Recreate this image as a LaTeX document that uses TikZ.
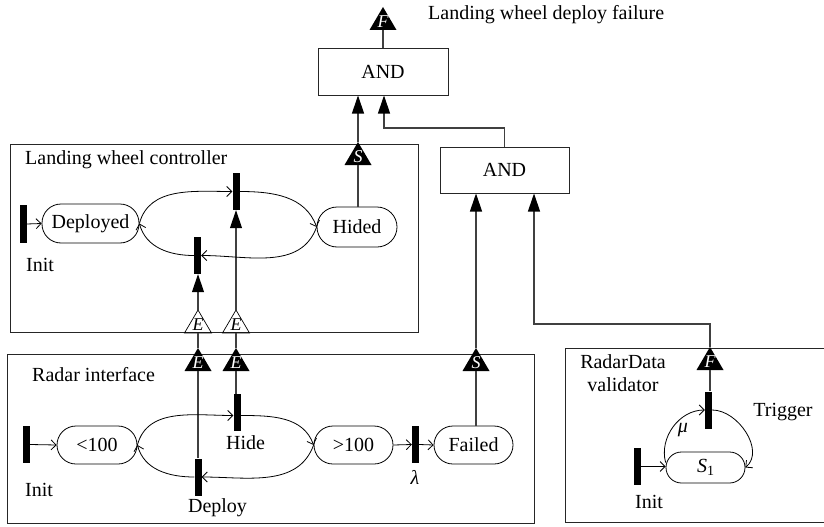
\documentclass[tikz,border=0pt]{standalone}
\usepackage{fontspec}
\setmainfont{Liberation Serif}
\usetikzlibrary{arrows.meta}
% event/fault port: apex coordinate #1, base coordinate #1-b, letter node #1-t
\newcommand{\evport}[5]{%
  \coordinate (#1) at (#2,#3);
  \coordinate (#1-b) at (#2,#3+23);
  \path[#4] (#1) -- ++(13.5,23) -- ++(-27,0) -- cycle;
  \node[plet, #4 letter] (#1-t) at (#2,#3+14.5) {#5};
}
\begin{document}
\begin{tikzpicture}[x=1pt,y=-1pt,
  every node/.style={font=\fontsize{20}{23}\selectfont},
  lbl/.style={inner sep=0pt},
  box/.style={draw=black!85, line width=1pt, inner sep=0pt},
  gate/.style={draw=black!85, line width=1pt, minimum width=130pt, minimum height=46pt, inner sep=0pt},
  state/.style={draw, line width=0.8pt, rounded corners=19pt, minimum height=39pt, inner sep=0pt},
  bar/.style={fill=black, minimum width=7pt, minimum height=37pt, inner sep=0pt},
  portfill/.style={fill=black},
  portfill letter/.style={text=white},
  porthollow/.style={draw=black, line width=0.7pt, line join=miter},
  porthollow letter/.style={text=black},
  plet/.style={font=\itshape\fontsize{18}{18}\selectfont, inner sep=0pt},
  trans/.style={line width=0.8pt, -{Straight Barb[length=5pt,width=10pt]}},
  link/.style={line width=1.1pt, draw=black!75},
  feed/.style={link, -{Triangle[length=18pt,width=12pt,color=black]}},
]
\useasboundingbox (0,0) rectangle (824,527);

% containers
\node[box, minimum width=408pt, minimum height=188pt] (ctl) at (214,238) {};
\node[box, minimum width=527pt, minimum height=169pt] (rad) at (270.5,438.5) {};
\node[box, minimum width=265pt, minimum height=174pt] (val) at (697.5,435) {};

% gates
\node[gate] (andTop) at (383,72) {AND};
\node[gate, minimum width=129pt] (and2) at (504.5,170) {AND};

% titles
\node[lbl, anchor=west] (tTop) at (428,15) {Landing wheel deploy failure};
\node[lbl, anchor=west] (tCtl) at (25,160) {Landing wheel controller};
\node[lbl, anchor=west] (tRad) at (32,375) {Radar interface};
\node[lbl, align=center] (tVal) at (623,373.5) {RadarData\\validator};

% landing wheel controller
\node[state, minimum width=97pt] (dep) at (90.5,223.5) {Deployed};
\node[state, minimum width=80pt, minimum height=40pt, rounded corners=20pt] (hid) at (357,227) {Hided};
\node[bar, minimum height=38pt] (cinit) at (23,224) {};
\node[lbl] (lCinit) at (40,265) {Init};
\node[bar] (ctop) at (236,191.5) {};
\node[bar] (cbot) at (197.5,255.5) {};

% radar interface
\node[state, minimum width=80pt, minimum height=38pt] (lt) at (97,445) {<100};
\node[state, minimum width=79pt, minimum height=38pt] (gt) at (353.5,445) {>100};
\node[state, minimum width=79pt, minimum height=38pt] (fail) at (473.5,445) {Failed};
\node[bar] (rinit) at (26.5,444.5) {};
\node[lbl] (lRinit) at (39,490) {Init};
\node[bar] (hideb) at (237,412.5) {};
\node[lbl] (lHide) at (245.5,443) {Hide};
\node[bar] (depb) at (198,477) {};
\node[lbl] (lDep) at (217.5,508) {Deploy};
\node[bar] (lamb) at (415.5,444.5) {};
\node[lbl] (lLam) at (415,477) {\textit{λ}};

% radar data validator
\node[state, minimum width=79pt, minimum height=31pt, rounded corners=15.5pt] (s1) at (705.5,467.5) {\textit{S}\raisebox{-0.3ex}{\fontsize{14}{14}\selectfont 1}};
\node[bar] (trig) at (708.5,410) {};
\node[lbl] (lTrig) at (783,412) {Trigger};
\node[lbl] (lMu) at (683,430) {\textit{μ}};
\node[bar] (vinit) at (637.5,466.5) {};
\node[lbl] (lVinit) at (649,502) {Init};

% ports
\evport{pTop}{383}{7}{portfill}{F}
\evport{pCS}{358}{142}{portfill}{S}
\evport{pH1}{198}{310}{porthollow}{E}
\evport{pH2}{236}{310}{porthollow}{E}
\evport{pB1}{198}{348}{portfill}{E}
\evport{pB2}{236}{348}{portfill}{E}
\evport{pRS}{476}{348}{portfill}{S}
\evport{pVF}{710}{347}{portfill}{F}

% fault tree links
\coordinate (kA) at (384,128);
\coordinate (kB) at (534,324);
\draw[link] (andTop.north) -- (pTop-b);
\draw[feed] (pCS) -- (pCS |- andTop.south);
\draw[link] (hid.north -| pCS) -- (pCS-b);
\draw[feed] (and2.north) |- (kA) -- (kA |- andTop.south);
\draw[feed] (pRS) -- (pRS |- and2.south);
\draw[link] (fail.north -| pRS) -- (pRS-b);
\draw[feed] (pVF) |- (kB) -- (kB |- and2.south);
\draw[link] (trig.north -| pVF) -- (pVF-b);

% event links between radar interface and controller
\draw[link] (depb.north) -- (depb.north |- pB1-b);
\draw[link] (pB1) -- (pH1-b);
\draw[feed] (pH1) -- (pH1 |- cbot.south);
\draw[link] (hideb.north -| pB2) -- (pB2-b);
\draw[link] (pB2) -- (pH2-b);
\draw[feed] (pH2) -- (pH2 |- ctop.south);

% controller transitions
\draw[trans] (cinit.east) -- (dep.west);
\draw[trans] (dep.east) to[out=75,in=180] (ctop.west);
\draw[trans] (ctop.east) to[out=0,in=110] (hid.west);
\draw[trans] (hid.west) to[out=-110,in=0] (cbot.east);
\draw[trans] (cbot.west) to[out=180,in=-75] (dep.east);

% radar interface transitions
\draw[trans] (lt.east) to[out=75,in=180] ([yshift=-3pt]hideb.west);
\draw[trans] (rinit.east) -- (lt.west);
\draw[trans] ([yshift=-3pt]hideb.east) to[out=0,in=110] (gt.west);
\draw[trans] (gt.west) to[out=-110,in=0] (depb.east);
\draw[trans] (depb.west) to[out=180,in=-75] (lt.east);
\draw[trans] (gt.east) -- (lamb.west);
\draw[trans] (lamb.east) -- (fail.west);

% validator transitions
\draw[trans] (vinit.east) -- (vinit.east -| s1.west);
\draw[trans] ([yshift=5pt]s1.west) to[out=105,in=180] (trig.west);
\draw[trans] (trig.east) to[out=0,in=40] (s1.east);
\end{tikzpicture}
\end{document}
